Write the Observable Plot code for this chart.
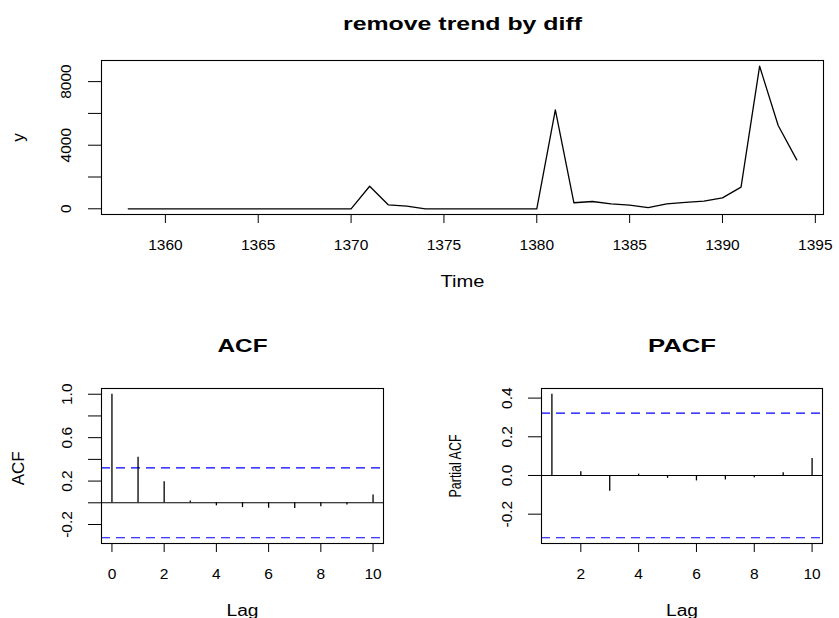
<!DOCTYPE html>
<html>
<head>
<meta charset="utf-8">
<script src="https://cdn.jsdelivr.net/npm/d3@7"></script>
<script src="https://cdn.jsdelivr.net/npm/@observablehq/plot@0.6"></script>
<style>
  html, body { margin: 0; padding: 0; background: #fff; }
  #wrap { position: relative; width: 839px; height: 618px; overflow: hidden; background: #fff; }
  #wrap > svg { position: absolute; }
</style>
</head>
<body>
<div id="wrap"></div>
<script>
// ---- data ----
const years = [1358,1359,1360,1361,1362,1363,1364,1365,1366,1367,1368,1369,1370,
  1371,1372,1373,1374,1375,1376,1377,1378,1379,1380,1381,1382,1383,1384,1385,
  1386,1387,1388,1389,1390,1391,1392,1393,1394];
const yValues = [0,0,0,0,0,0,0,0,0,0,0,0,0,
  1420,250,165,0,0,0,0,0,0,0,6220,380,460,315,230,
  80,315,400,480,690,1360,8970,5240,3080];

const acfLags = [0,1,2,3,4,5,6,7,8,9,10];
const acfValues = [1.0, 0.42, 0.195, 0.016, -0.028, -0.044, -0.05, -0.053, -0.037, -0.02, 0.072];
const pacfLags = [1,2,3,4,5,6,7,8,9,10];
const pacfValues = [0.42, 0.019, -0.082, 0.007, -0.015, -0.028, -0.023, -0.012, 0.014, 0.088];
const ciLevel = 0.322;

const timeTicks = [1360,1365,1370,1375,1380,1385,1390,1395];
const yTicks = [0,2000,4000,6000,8000];
const yTickLabels = [0,4000,8000];
const acfXTicks = [0,2,4,6,8,10];
const acfYTicks = [-0.2,0,0.2,0.4,0.6,0.8,1.0];
const acfYTickLabels = [-0.2,0.2,0.6,1.0];
const pacfXTicks = [2,4,6,8,10];
const pacfYTicks = [-0.2,0,0.2,0.4];
const pacfYTickLabels = [-0.2,0,0.2,0.4];

// ---- helpers ----
const FONT = "Liberation Sans, Arial, Helvetica, sans-serif";
const ext = (lo, hi) => [lo - 0.04 * (hi - lo), hi + 0.04 * (hi - lo)]; // R's xaxs/yaxs = "r"
const wrapEl = document.getElementById("wrap");

function place(svg, left, topPx, stretch) {
  svg.style.left = left + "px";
  svg.style.top = topPx + "px";
  for (const [txt, len] of stretch) {
    d3.select(svg).selectAll("text")
      .filter(function () { return this.textContent === txt; })
      .attr("textLength", len)
      .attr("lengthAdjust", "spacingAndGlyphs");
  }
  wrapEl.appendChild(svg);
}

const baseStyle = { fontFamily: FONT, fontSize: "15px", color: "black", background: "transparent", overflow: "visible" };

// ---- top panel: time series ----
const series = years.map((t, i) => ({ t, v: yValues[i] }));
const topPlot = Plot.plot({
  width: 839, height: 300,
  marginTop: 60, marginBottom: 86, marginLeft: 101, marginRight: 16,
  style: baseStyle,
  x: { domain: ext(d3.min(years), d3.max(years)) },
  y: { domain: ext(d3.min(yValues), d3.max(yValues)) },
  marks: [
    Plot.line(series, { x: "t", y: "v", stroke: "black", strokeWidth: 1.3 }),
    Plot.frame({ stroke: "black", strokeWidth: 1.1 }),
    Plot.axisX({ ticks: timeTicks, tickSize: 9, tickPadding: 15, tickFormat: d => String(d), label: null, fontSize: 15.5, stroke: "black" }),
    Plot.axisY({ ticks: yTicks, tickSize: 13, tickFormat: () => "", label: null, stroke: "black" }),
    Plot.text(yTickLabels, { y: d => d, text: d => String(d), frameAnchor: "left", dx: -35, rotate: -90, textAnchor: "middle", lineAnchor: "middle", fontSize: 15.5, fill: "black" }),
    Plot.text(["remove trend by diff"], { frameAnchor: "top", lineAnchor: "bottom", dy: -30.5, fontSize: 18, fontWeight: "bold", fill: "black" }),
    Plot.text(["Time"], { frameAnchor: "bottom", lineAnchor: "top", dy: 61, fontSize: 16, fill: "black" }),
    Plot.text(["y"], { frameAnchor: "left", dx: -83, rotate: -90, textAnchor: "middle", lineAnchor: "middle", fontSize: 17, fill: "black" })
  ]
});
place(topPlot, 0, 0, [["remove trend by diff", 239], ["Time", 44]]);

// ---- bottom-left: ACF ----
const acfData = acfLags.map((lag, i) => ({ lag, v: acfValues[i] }));
const acfPlot = Plot.plot({
  width: 420, height: 318,
  marginTop: 88, marginBottom: 75, marginLeft: 101, marginRight: 37,
  style: baseStyle,
  x: { domain: ext(d3.min(acfLags), d3.max(acfLags)) },
  y: { domain: ext(Math.min(-ciLevel, d3.min(acfValues)), Math.max(ciLevel, d3.max(acfValues))) },
  marks: [
    Plot.ruleY([0], { stroke: "black", strokeWidth: 1.1 }),
    Plot.ruleY([ciLevel, -ciLevel], { stroke: "#0000ff", strokeWidth: 1.2, strokeDasharray: "9,6" }),
    Plot.ruleX(acfData, { x: "lag", y1: 0, y2: "v", stroke: "black", strokeWidth: 1.3 }),
    Plot.frame({ stroke: "black", strokeWidth: 1.1 }),
    Plot.axisX({ ticks: acfXTicks, tickSize: 9, tickPadding: 15, tickFormat: d => String(d), label: null, fontSize: 15.5, stroke: "black" }),
    Plot.axisY({ ticks: acfYTicks, tickSize: 13, tickFormat: () => "", label: null, stroke: "black" }),
    Plot.text(acfYTickLabels, { y: d => d, text: d => d.toFixed(1), frameAnchor: "left", dx: -34, rotate: -90, textAnchor: "middle", lineAnchor: "middle", fontSize: 15.5, fill: "black" }),
    Plot.text(["ACF"], { frameAnchor: "top", lineAnchor: "bottom", dy: -37, fontSize: 18, fontWeight: "bold", fill: "black" }),
    Plot.text(["Lag"], { frameAnchor: "bottom", lineAnchor: "top", dy: 61, fontSize: 16, fill: "black" }),
    Plot.text(["ACF "], { frameAnchor: "left", dx: -83, rotate: -90, textAnchor: "middle", lineAnchor: "middle", fontSize: 17, fill: "black" })
  ]
});
place(acfPlot, 0, 300, [["ACF", 50], ["Lag", 32]]);

// ---- bottom-right: PACF ----
const pacfData = pacfLags.map((lag, i) => ({ lag, v: pacfValues[i] }));
const pacfPlot = Plot.plot({
  width: 419, height: 318,
  marginTop: 88, marginBottom: 75, marginLeft: 121, marginRight: 17,
  style: baseStyle,
  x: { domain: ext(d3.min(pacfLags), d3.max(pacfLags)) },
  y: { domain: ext(Math.min(-ciLevel, d3.min(pacfValues)), Math.max(ciLevel, d3.max(pacfValues))) },
  marks: [
    Plot.ruleY([0], { stroke: "black", strokeWidth: 1.1 }),
    Plot.ruleY([ciLevel, -ciLevel], { stroke: "#0000ff", strokeWidth: 1.2, strokeDasharray: "9,6" }),
    Plot.ruleX(pacfData, { x: "lag", y1: 0, y2: "v", stroke: "black", strokeWidth: 1.3 }),
    Plot.frame({ stroke: "black", strokeWidth: 1.1 }),
    Plot.axisX({ ticks: pacfXTicks, tickSize: 9, tickPadding: 15, tickFormat: d => String(d), label: null, fontSize: 15.5, stroke: "black" }),
    Plot.axisY({ ticks: pacfYTicks, tickSize: 13, tickFormat: () => "", label: null, stroke: "black" }),
    Plot.text(pacfYTickLabels, { y: d => d, text: d => d.toFixed(1), frameAnchor: "left", dx: -34, rotate: -90, textAnchor: "middle", lineAnchor: "middle", fontSize: 15.5, fill: "black" }),
    Plot.text(["PACF"], { frameAnchor: "top", lineAnchor: "bottom", dy: -37, fontSize: 18, fontWeight: "bold", fill: "black" }),
    Plot.text(["Lag"], { frameAnchor: "bottom", lineAnchor: "top", dy: 61, fontSize: 16, fill: "black" }),
    Plot.text(["Partial ACF"], { frameAnchor: "left", dx: -86, rotate: -90, textAnchor: "middle", lineAnchor: "middle", fontSize: 17, fill: "black" })
  ]
});
place(pacfPlot, 420, 300, [["PACF", 68], ["Partial ACF", 63], ["Lag", 32]]);
</script>
</body>
</html>
